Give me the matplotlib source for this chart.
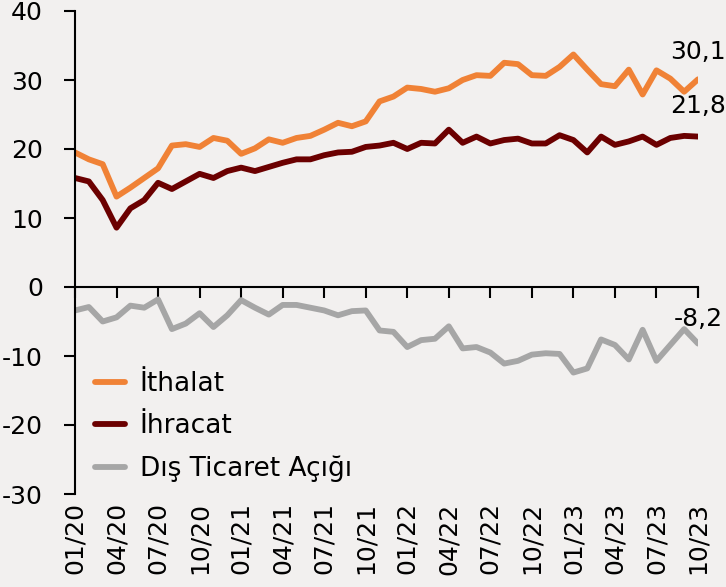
import matplotlib
matplotlib.use("Agg")
import matplotlib.pyplot as plt
import numpy as np

# monthly data 01/20 .. 10/23
months = [f"{m:02d}/{y:02d}" for y in range(20, 24) for m in range(1, 13)][:46]

ithalat = [19.5, 18.5, 17.8, 13.1, 14.4, 15.8, 17.2, 20.5, 20.7, 20.3,
           21.6, 21.2, 19.3, 20.1, 21.4, 20.9, 21.6, 21.9, 22.8, 23.8,
           23.3, 24.0, 26.9, 27.6, 28.9, 28.7, 28.3, 28.8, 30.0, 30.7,
           30.6, 32.5, 32.3, 30.7, 30.6, 31.9, 33.7, 31.5, 29.4, 29.1,
           31.5, 27.9, 31.4, 30.2, 28.3, 30.1]
ihracat = [15.8, 15.3, 12.6, 8.6, 11.4, 12.6, 15.1, 14.2, 15.3, 16.4,
           15.8, 16.8, 17.3, 16.8, 17.4, 18.0, 18.5, 18.5, 19.1, 19.5,
           19.6, 20.3, 20.5, 20.9, 20.0, 20.9, 20.8, 22.8, 20.9, 21.8,
           20.8, 21.3, 21.5, 20.8, 20.8, 22.0, 21.3, 19.5, 21.8, 20.6,
           21.1, 21.8, 20.6, 21.6, 21.9, 21.8]
acik = [-3.4, -2.9, -5.0, -4.4, -2.7, -3.0, -1.8, -6.1, -5.3, -3.8,
        -5.8, -4.1, -1.9, -3.0, -4.0, -2.6, -2.6, -3.0, -3.4, -4.1,
        -3.5, -3.4, -6.3, -6.5, -8.7, -7.7, -7.5, -5.7, -8.9, -8.7,
        -9.5, -11.1, -10.7, -9.8, -9.6, -9.7, -12.4, -11.8, -7.6, -8.4,
        -10.5, -6.2, -10.7, -8.4, -6.1, -8.2]

bg = "#F2F0EF"
plt.rcParams['font.family'] = ['DejaVu Sans']
plt.rcParams['font.size'] = 18
plt.rcParams['axes.unicode_minus'] = False

fig = plt.figure(figsize=(7.26, 5.87), dpi=100, facecolor=bg)
ax = fig.add_axes([75 / 726, 1 - 494 / 587, 623 / 726, 483 / 587])
ax.set_facecolor(bg)

x = np.arange(len(months))
ax.plot(x, ithalat, color="#F08236", lw=4.2, label="İthalat", solid_capstyle="round")
ax.plot(x, ihracat, color="#6B0000", lw=4.2, label="İhracat", solid_capstyle="round")
ax.plot(x, acik, color="#A6A6A6", lw=4.2, label="Dış Ticaret Açığı", solid_capstyle="round")

ax.set_xlim(0, len(months) - 1)
ax.set_ylim(-30, 40)
ax.set_yticks(range(-30, 41, 10))
ax.tick_params(axis="y", direction="out", length=8, width=1.5, pad=15)

ticks = x[::3]
ax.set_xticks(ticks)
ax.set_xticklabels([months[i] for i in ticks], rotation=90)
ax.tick_params(axis="x", length=0, pad=6)

for s in ["top", "right", "bottom"]:
    ax.spines[s].set_visible(False)
ax.spines["left"].set_linewidth(1.5)

# zero line with ticks
sec = ax.secondary_xaxis(0, transform=ax.transData)
sec.set_xticks(list(ticks) + [x[-1]])
sec.tick_params(axis="x", direction="out", length=8, width=1.5, labelbottom=False)
sec.spines["bottom"].set_linewidth(1.5)

# end labels
for series, dy in [(ithalat, 20), (ihracat, 22), (acik, 18)]:
    ax.annotate(f"{series[-1]:.1f}".replace(".", ","), (x[-1], series[-1]),
                xytext=(0, dy), textcoords="offset points",
                ha="center", va="center")

ax.legend(loc="upper left", bbox_to_anchor=(0.015, 0.277), frameon=False,
          fontsize=19, handlelength=1.15, handletextpad=0.55, labelspacing=0.62,
          borderaxespad=0)

fig.savefig("out.png", dpi=100, facecolor=bg)
